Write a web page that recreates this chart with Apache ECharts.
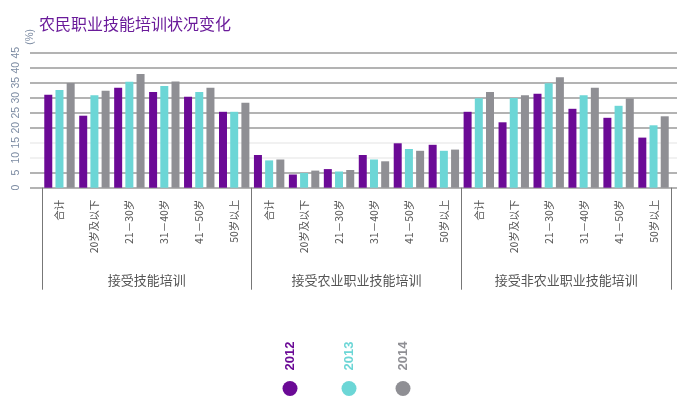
<!DOCTYPE html>
<html>
<head>
<meta charset="utf-8">
<script src="https://cdn.jsdelivr.net/npm/echarts@6/dist/echarts.min.js"></script>
<style>
  html, body { margin: 0; padding: 0; background: #fff; }
  #chart { width: 700px; height: 398px; }
</style>
</head>
<body>
<div id="chart"></div>
<script>
  // 年龄分组 + 培训类型
  const ageGroups = ["合计", "20岁及以下", "21－30岁", "31－40岁", "41－50岁", "50岁以上"];
  const trainTypes = ["接受技能培训", "接受农业职业技能培训", "接受非农业职业技能培训"];
  const years = ["2012", "2013", "2014"];
  const yTicks = [0, 5, 10, 15, 20, 25, 30, 35, 40, 45];

  // 每年数值，顺序：技能培训6项、农业6项、非农6项 (%)
  const data2012 = [31, 24, 33.3, 31.9, 30.3, 25.3, 10.9, 4.4, 6.2, 10.9, 14.8, 14.3, 25.3, 21.8, 31.3, 26.3, 23.3, 16.7];
  const data2013 = [32.6, 30.8, 35.3, 33.9, 31.9, 25.3, 9.1, 4.9, 5.4, 9.4, 12.9, 12.3, 29.8, 29.9, 34.8, 30.8, 27.3, 20.8];
  const data2014 = [34.9, 32.3, 37.9, 35.4, 33.3, 28.3, 9.4, 5.7, 5.9, 8.8, 12.3, 12.7, 31.9, 30.8, 36.8, 33.3, 29.7, 23.8];

  const colors = ["#6b0a96", "#6cd6d6", "#8f8f94"];
  const seriesData = [data2012, data2013, data2014];

  const categories = [];
  trainTypes.forEach(function () {
    ageGroups.forEach(function (a) { categories.push(a); });
  });

  // 10 条横线：0,5 深；10,15 浅；其余深
  const gridLineColors = ["#9a9a9a", "#9a9a9a", "#ececec", "#ececec", "#9a9a9a", "#9a9a9a", "#9a9a9a", "#9a9a9a", "#9a9a9a", "#9a9a9a"];

  const chart = echarts.init(document.getElementById("chart"));

  // 图例圆点中心 x
  const legendX = [290, 349, 403];

  const option = {
    animation: false,
    title: {
      text: "农民职业技能培训状况变化",
      left: 34,
      top: 11,
      textStyle: { color: "#6a1b9a", fontSize: 16, fontWeight: "normal", fontFamily: "Noto Sans CJK SC" },
    },
    legend: years.map(function (y, i) {
      return {
        data: [y],
        left: legendX[i] - 12.5,
        top: 376,
        icon: "circle",
        itemWidth: 15,
        itemHeight: 15,
        selectedMode: false,
        formatter: function () { return ""; },
      };
    }),
    graphic: years.map(function (y, i) {
      return {
        type: "text",
        x: legendX[i],
        y: 356,
        rotation: Math.PI / 2,
        style: {
          text: y,
          fill: colors[i],
          font: "bold 13px 'Liberation Sans', Arial",
          align: "center",
          verticalAlign: "middle",
        },
      };
    }),
    grid: [
      { left: 30, right: 23, top: 52.7, bottom: 210.3 },
      { left: 42, right: 29, top: 52.7, bottom: 210.3 },
    ],
    xAxis: [
      { type: "value", gridIndex: 0, show: false },
      {
        type: "category",
        gridIndex: 1,
        data: categories,
        axisLine: { show: false },
        axisTick: { show: false },
        axisLabel: {
          interval: 0,
          rotate: 90,
          margin: 12,
          fontSize: 10.5,
          color: "#555",
          fontFamily: "Noto Sans CJK SC",
        },
      },
      {
        type: "category",
        gridIndex: 1,
        data: trainTypes,
        position: "bottom",
        axisLine: { show: false },
        axisTick: { show: true, length: 102, interval: 0, lineStyle: { color: "#777", width: 1 } },
        axisLabel: {
          interval: 0,
          margin: 86,
          fontSize: 13,
          color: "#555",
          fontFamily: "Noto Sans CJK SC",
        },
      },
    ],
    yAxis: [
      {
        type: "value",
        gridIndex: 0,
        min: yTicks[0],
        max: yTicks[yTicks.length - 1],
        interval: 5,
        name: "(%)",
        nameLocation: "end",
        nameRotate: 90,
        nameGap: 8,
        nameTextStyle: { color: "#7d8ca3", fontSize: 10, align: "left", verticalAlign: "middle" },
        axisLine: { show: false },
        axisTick: { show: false },
        axisLabel: { rotate: 90, margin: 8, fontSize: 10.5, color: "#7d8ca3" },
        splitLine: { show: true, lineStyle: { color: gridLineColors, width: 1.5 } },
      },
      {
        type: "value",
        gridIndex: 1,
        min: 0,
        max: 45,
        show: false,
        splitLine: { show: false },
      },
    ],
    series: years.map(function (y, i) {
      return {
        name: y,
        type: "bar",
        xAxisIndex: 1,
        yAxisIndex: 1,
        data: seriesData[i],
        barWidth: 8,
        barGap: "40%",
        itemStyle: { color: colors[i] },
      };
    }),
  };

  chart.setOption(option);
</script>
</body>
</html>
